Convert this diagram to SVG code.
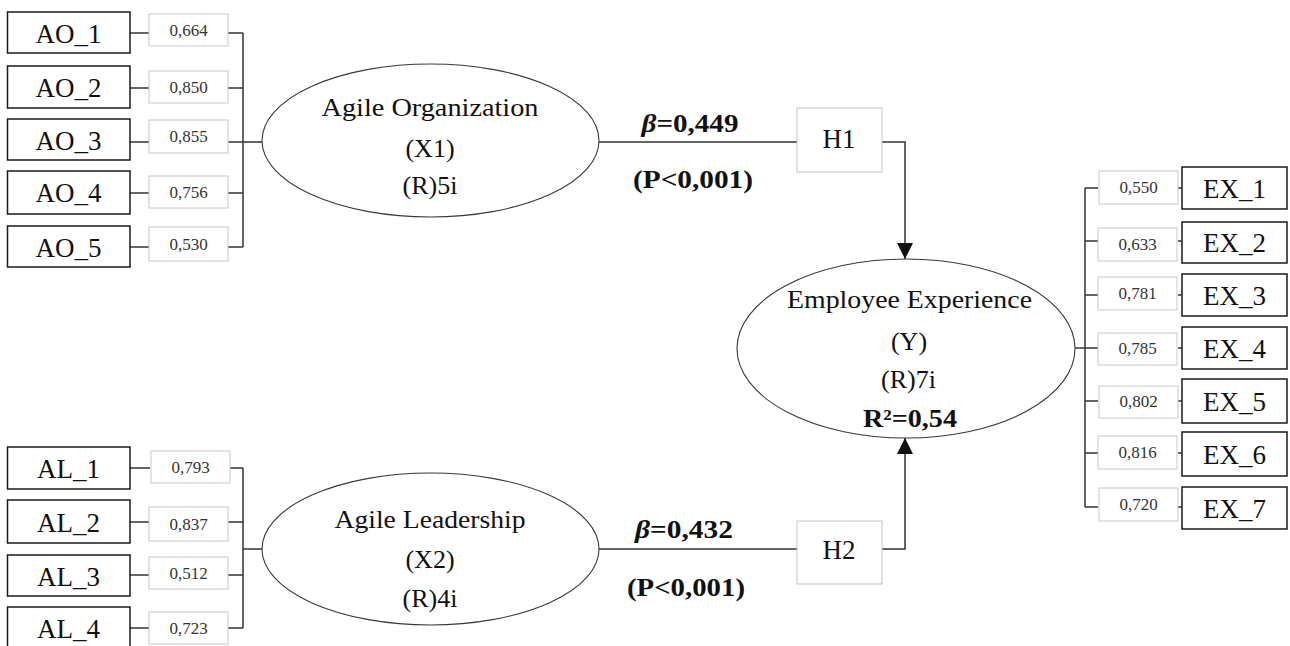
<svg xmlns="http://www.w3.org/2000/svg" width="1290" height="646" viewBox="0 0 1290 646">
<style>
text{font-family:"Liberation Serif","Times New Roman",serif;fill:#111;text-anchor:middle}
.ind{fill:#fff;stroke:#1a1a1a;stroke-width:1.5}
.ld{fill:#fff;stroke:#c8c8c8;stroke-width:1}
.hb{fill:#fff;stroke:#c4c4c4;stroke-width:1}
.lat{fill:#fff;stroke:#3a3a3a;stroke-width:1.1}
.it{font-size:27px}
.lt{font-size:17px;fill:#333}
.lab{font-size:26px}
.b{font-size:25px;font-weight:bold}
.c{fill:none;stroke:#333;stroke-width:1.5}
</style>
<defs>
<marker id="ah" markerUnits="userSpaceOnUse" markerWidth="17" markerHeight="16" refX="16" refY="8" orient="auto" viewBox="0 0 17 16">
<path d="M0,0 L16,8 L0,16 Z" fill="#111"/>
</marker>
</defs>
<rect width="1290" height="646" fill="#fff"/>

<g id="connectors">
<path class="c" d="M130,33 H149 M130,88 H149 M130,142 H149 M130,193 H149 M130,247 H149"/>
<path class="c" d="M228,33 H243 M228,88 H243 M228,142 H243 M228,193 H243 M228,247 H243 M243,33 V247 M243,142 H262"/>
<path class="c" d="M130,468 H150 M130,522 H149 M130,575 H149 M130,628 H149"/>
<path class="c" d="M230,468 H243 M228,522 H243 M228,575 H243 M228,628 H243 M243,468 V628 M243,549 H262"/>
<path class="c" d="M1075,348 H1085 M1085,188 V507 M1085,188 H1098 M1085,241 H1098 M1085,295 H1098 M1085,348 H1098 M1085,401 H1098 M1085,453 H1098 M1085,507 H1098"/>
<path class="c" d="M1178,188 H1182 M1178,241 H1182 M1178,295 H1182 M1178,348 H1182 M1178,401 H1182 M1178,453 H1182 M1178,507 H1182"/>
<path class="c" d="M599,142 H797"/>
<path class="c" d="M882,142 H905 V259" marker-end="url(#ah)"/>
<path class="c" d="M599,549 H797"/>
<path class="c" d="M882,549 H905 V438" marker-end="url(#ah)"/>
<text class="b" x="690" y="132" textLength="97" lengthAdjust="spacingAndGlyphs"><tspan font-style="italic">β</tspan>=0,449</text>
<text class="b" x="693" y="188" textLength="120" lengthAdjust="spacingAndGlyphs">(P&lt;0,001)</text>
<text class="b" x="684" y="538" textLength="98" lengthAdjust="spacingAndGlyphs"><tspan font-style="italic">β</tspan>=0,432</text>
<text class="b" x="686" y="596" textLength="118" lengthAdjust="spacingAndGlyphs">(P&lt;0,001)</text>
</g>

<g id="AO_1"><rect class="ind" x="7.5" y="12" width="122.5" height="41"/><text class="it" x="68.5" y="43">AO_1</text></g>
<g id="AO_2"><rect class="ind" x="7.5" y="66" width="122.5" height="42"/><text class="it" x="68.5" y="97">AO_2</text></g>
<g id="AO_3"><rect class="ind" x="7.5" y="119" width="122.5" height="41"/><text class="it" x="68.5" y="150">AO_3</text></g>
<g id="AO_4"><rect class="ind" x="7.5" y="171" width="122.5" height="43"/><text class="it" x="68.5" y="202">AO_4</text></g>
<g id="AO_5"><rect class="ind" x="7.5" y="226" width="122.5" height="41"/><text class="it" x="68.5" y="257">AO_5</text></g>

<g id="L_AO_1"><rect class="ld" x="149" y="14" width="79" height="32"/><text class="lt" x="188.5" y="36">0,664</text></g>
<g id="L_AO_2"><rect class="ld" x="149" y="71" width="79" height="32"/><text class="lt" x="188.5" y="93">0,850</text></g>
<g id="L_AO_3"><rect class="ld" x="149" y="120" width="79" height="33"/><text class="lt" x="188.5" y="142">0,855</text></g>
<g id="L_AO_4"><rect class="ld" x="149" y="176" width="79" height="32"/><text class="lt" x="188.5" y="198">0,756</text></g>
<g id="L_AO_5"><rect class="ld" x="149" y="227" width="79" height="34"/><text class="lt" x="188.5" y="250">0,530</text></g>

<g id="AL_1"><rect class="ind" x="7.5" y="447" width="122.5" height="42"/><text class="it" x="68.5" y="478">AL_1</text></g>
<g id="AL_2"><rect class="ind" x="7.5" y="500" width="122.5" height="43"/><text class="it" x="68.5" y="532">AL_2</text></g>
<g id="AL_3"><rect class="ind" x="7.5" y="555" width="122.5" height="41"/><text class="it" x="68.5" y="586">AL_3</text></g>
<g id="AL_4"><rect class="ind" x="7.5" y="607" width="122.5" height="43"/><text class="it" x="68.5" y="638">AL_4</text></g>

<g id="L_AL_1"><rect class="ld" x="151" y="451" width="79" height="32"/><text class="lt" x="190.5" y="473">0,793</text></g>
<g id="L_AL_2"><rect class="ld" x="149" y="507" width="79" height="34"/><text class="lt" x="188.5" y="530">0,837</text></g>
<g id="L_AL_3"><rect class="ld" x="149" y="557" width="79" height="32"/><text class="lt" x="188.5" y="579">0,512</text></g>
<g id="L_AL_4"><rect class="ld" x="149" y="612" width="79" height="32"/><text class="lt" x="188.5" y="634">0,723</text></g>

<g id="EX_1"><rect class="ind" x="1182" y="167" width="105" height="42"/><text class="it" x="1234.5" y="198">EX_1</text></g>
<g id="EX_2"><rect class="ind" x="1182" y="222" width="105" height="41"/><text class="it" x="1234.5" y="252">EX_2</text></g>
<g id="EX_3"><rect class="ind" x="1182" y="274" width="105" height="42"/><text class="it" x="1234.5" y="305">EX_3</text></g>
<g id="EX_4"><rect class="ind" x="1182" y="327" width="105" height="42"/><text class="it" x="1234.5" y="358">EX_4</text></g>
<g id="EX_5"><rect class="ind" x="1182" y="379" width="105" height="44"/><text class="it" x="1234.5" y="411">EX_5</text></g>
<g id="EX_6"><rect class="ind" x="1182" y="432" width="105" height="44"/><text class="it" x="1234.5" y="464">EX_6</text></g>
<g id="EX_7"><rect class="ind" x="1182" y="487" width="105" height="42"/><text class="it" x="1234.5" y="518">EX_7</text></g>

<g id="L_EX_1"><rect class="ld" x="1099" y="171" width="79" height="33"/><text class="lt" x="1138.5" y="193">0,550</text></g>
<g id="L_EX_2"><rect class="ld" x="1098" y="228" width="79" height="33"/><text class="lt" x="1137.5" y="250">0,633</text></g>
<g id="L_EX_3"><rect class="ld" x="1098" y="277" width="79" height="33"/><text class="lt" x="1137.5" y="299">0,781</text></g>
<g id="L_EX_4"><rect class="ld" x="1098" y="333" width="79" height="32"/><text class="lt" x="1137.5" y="354">0,785</text></g>
<g id="L_EX_5"><rect class="ld" x="1099" y="386" width="79" height="32"/><text class="lt" x="1138.5" y="407">0,802</text></g>
<g id="L_EX_6"><rect class="ld" x="1098" y="436" width="79" height="33"/><text class="lt" x="1137.5" y="458">0,816</text></g>
<g id="L_EX_7"><rect class="ld" x="1099" y="488" width="79" height="33"/><text class="lt" x="1138.5" y="510">0,720</text></g>

<g id="X1">
<ellipse class="lat" cx="430.5" cy="140.5" rx="168.5" ry="76.5"/>
<text class="lab" x="430" y="116" textLength="217" lengthAdjust="spacingAndGlyphs">Agile Organization</text>
<text class="lab" x="430" y="157">(X1)</text>
<text class="lab" x="430" y="194">(R)5i</text>
</g>
<g id="X2">
<ellipse class="lat" cx="430.5" cy="549" rx="168.5" ry="76"/>
<text class="lab" x="430" y="528" textLength="191" lengthAdjust="spacingAndGlyphs">Agile Leadership</text>
<text class="lab" x="430" y="568">(X2)</text>
<text class="lab" x="430" y="607">(R)4i</text>
</g>
<g id="Y">
<ellipse class="lat" cx="906" cy="348.5" rx="169" ry="89.5"/>
<text class="lab" x="909.5" y="308" textLength="245" lengthAdjust="spacingAndGlyphs">Employee Experience</text>
<text class="lab" x="909" y="350">(Y)</text>
<text class="lab" x="908.5" y="388">(R)7i</text>
<text class="b" x="910" y="427" textLength="94" lengthAdjust="spacingAndGlyphs">R²=0,54</text>
</g>

<g id="H1"><rect class="hb" x="797" y="108" width="85" height="64"/><text class="it" x="839" y="148">H1</text></g>
<g id="H2"><rect class="hb" x="797" y="521" width="85" height="63"/><text class="it" x="839" y="559">H2</text></g>
</svg>
